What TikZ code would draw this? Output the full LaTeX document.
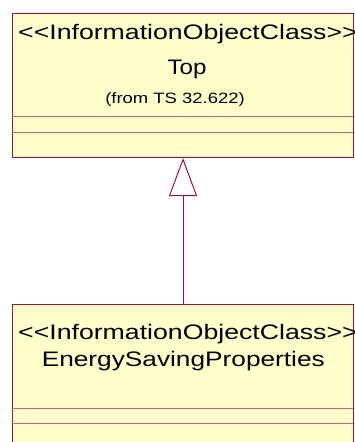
\documentclass[tikz,border=0pt]{standalone}
\usepackage{fontspec}
\setmainfont[Ligatures=NoCommon]{Liberation Sans}
\usetikzlibrary{arrows.meta}
\definecolor{umlline}{HTML}{A0103F}
\definecolor{umlsep}{HTML}{C8687A}
\definecolor{umlfill}{HTML}{FFFFCC}
\newcommand{\stereo}[1]{\textless{}\textless{}#1\textgreater{}\textgreater{}}
\tikzset{
  classbox/.style={draw=umlline, line width=1.1pt, fill=umlfill, rectangle, inner sep=0pt},
  sepline/.style={draw=umlsep, line width=0.9pt},
  bigtxt/.style={inner sep=0pt, font=\fontsize{21}{25}\selectfont},
  smalltxt/.style={inner sep=0pt, font=\fontsize{15}{18}\selectfont},
  gen/.style={draw=umlline, line width=1pt, -{Triangle[open, length=38pt, width=28pt]}}
}
\begin{document}
\begin{tikzpicture}[x=1pt,y=-1pt]
\fill[white] (0,0) rectangle (355,442);
\useasboundingbox (0,0) rectangle (355,442);
% boxes
\node[classbox, anchor=north west, minimum width=341pt, minimum height=144pt] (top) at (12,13) {};
\node[classbox, anchor=north west, minimum width=341pt, minimum height=145pt] (esp) at (12,304) {};
% separators
\draw[sepline] (12,116) -- (353,116);
\draw[sepline] (12,132) -- (353,132);
\draw[sepline] (12,408) -- (353,408);
\draw[sepline] (12,423.5) -- (353,423.5);
% texts
\node[bigtxt, anchor=base west] (s1) at (18,39.3) {\scalebox{1.27}[1]{\stereo{InformationObjectClass}}};
\node[bigtxt, anchor=base] (n1) at (187,74.3) {\scalebox{1.15}[1]{Top}};
\node[smalltxt, anchor=base] (f1) at (175,103.3) {\scalebox{1.23}[1]{(from TS 32.622)}};
\node[bigtxt, anchor=base west] (s2) at (18,339.3) {\scalebox{1.27}[1]{\stereo{InformationObjectClass}}};
\node[bigtxt, anchor=base] (n2) at (183.3,366.7) {\scalebox{1.25}[1]{EnergySavingProperties}};
% generalization
\coordinate (gs) at (183,304);
\coordinate (ge) at (183,158);
\draw[gen] (gs) -- (ge);
\end{tikzpicture}
\end{document}
